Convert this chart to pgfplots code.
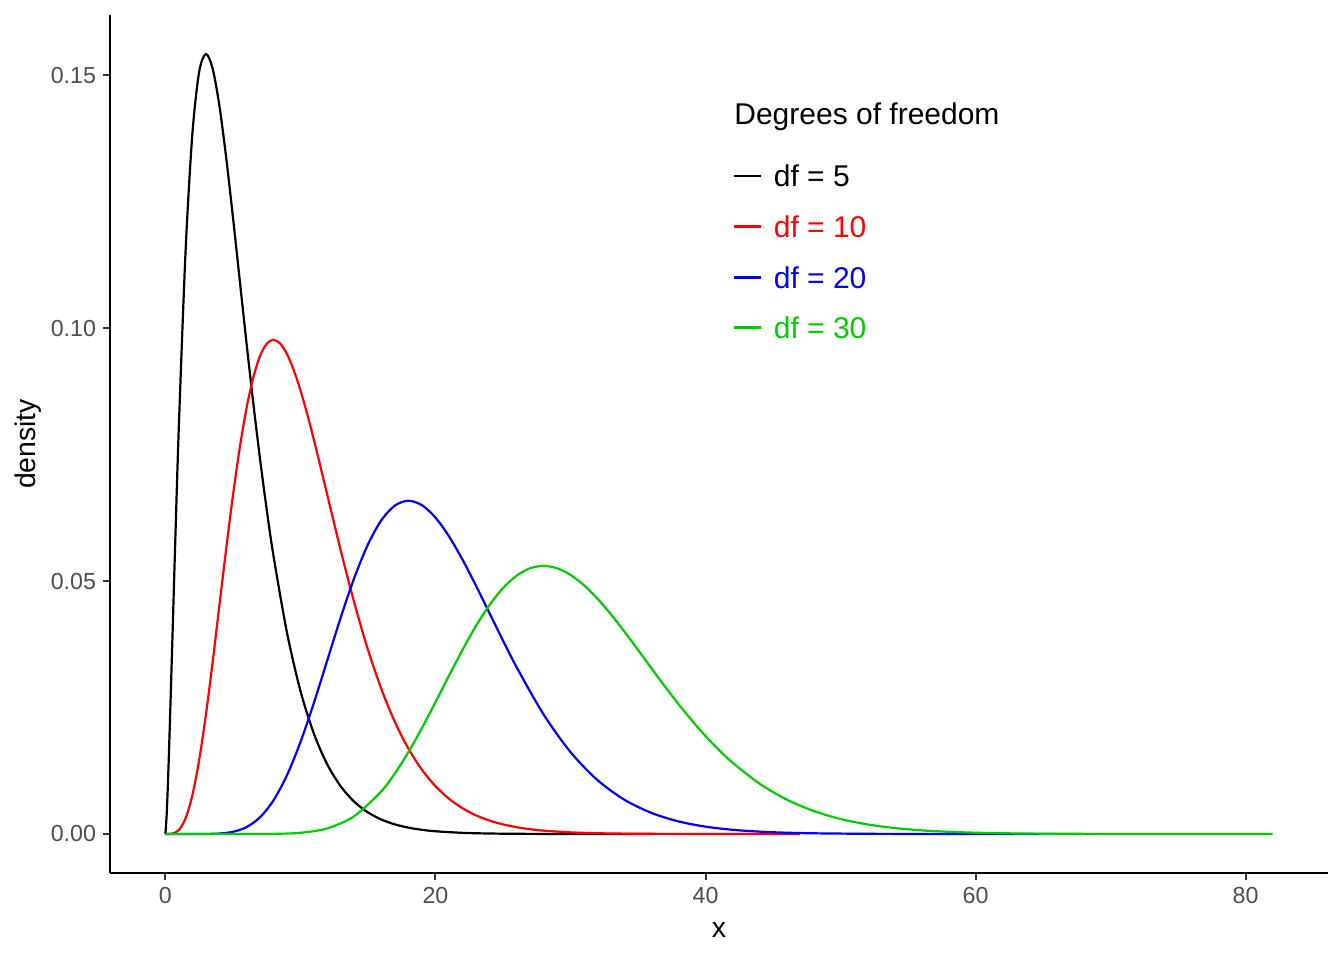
\documentclass[border=0pt]{standalone}
\usepackage{pgfplots}
\pgfplotsset{compat=1.18}
\usepackage{fontspec}
\setmainfont{Liberation Sans}
\definecolor{ggreen}{HTML}{00CD00}
\definecolor{tickgray}{HTML}{4D4D4D}
\definecolor{tickmark}{HTML}{333333}
\begin{document}
\begin{tikzpicture}
\begin{axis}[
  name=ax,
  scale only axis, width=609pt, height=429pt,
  xmin=-4.1, xmax=86.1, ymin=-0.00771, ymax=0.16189,
  axis lines=left, axis line style={-, line width=1pt, black},
  tick align=outside, major tick length=3.5pt,
  tick style={tickmark, line width=1pt},
  xtick={0,20,40,60,80}, ytick={0,0.05,0.10,0.15},
  scaled y ticks=false,
  y tick label style={/pgf/number format/.cd, fixed, fixed zerofill, precision=2, /tikz/.cd},
  tick label style={font=\fontsize{11.6}{14}\selectfont, text=tickgray},
  /pgf/number format/assume math mode=true,
  xlabel={x}, ylabel={density},
  every axis x label/.style={at={(axis description cs:0.5,-0.0664)}, anchor=center, font=\fontsize{14.2}{17}\selectfont},
  every axis y label/.style={at={(axis description cs:-0.0673,0.5)}, anchor=center, rotate=90, font=\fontsize{14.2}{17}\selectfont},
  legend style={at={(axis description cs:0.5115,0.8252)}, anchor=north west,
    draw=none, fill=none, inner sep=0pt, outer sep=0pt,
    font=\fontsize{15}{18}\selectfont, row sep=14.3pt,
    nodes={inner sep=0pt, text height=11pt, text depth=0pt},
    /tikz/every odd column/.append style={column sep=5.5pt}},
  legend cell align=left,
  legend image code/.code={\draw[#1, line width=1.4pt] (0pt,0pt) -- (13.5pt,0pt);},
]
\addplot[black, line width=1.1pt, smooth] coordinates {
(0,0) (0.1,0.004000) (0.25,0.014669) (0.5,0.036616) (0.75,0.059364) (1,0.080657)
(1.5,0.115400) (2,0.138370) (2.5,0.150602) (3,0.154181) (3.5,0.151313) (4,0.143976)
(4.5,0.133797) (5,0.122042) (5.5,0.109654) (6,0.097304) (6.5,0.085448) (7,0.074370)
(7.5,0.064237) (8,0.055113) (9,0.039887) (10,0.028335) (11,0.019827) (12,0.013703)
(13,0.009371) (14,0.006352) (15,0.004273) (16,0.002855) (17,0.001897) (18,0.001253)
(19,0.000824) (20,0.000540) (22,0.000229) (24,0.0000961) (26,0.0000399) (28,0.0000164)
(30,0.0000067) (33,0.0000017) (36,0.0000004)
};
\addlegendentry{df = 5}
\addplot[red, line width=1.1pt, smooth] coordinates {
(0,0) (0.5,0.0000634) (1,0.000790) (1.5,0.003114) (2,0.007664) (2.5,0.014572) (3,0.023533)
(3.5,0.033955) (4,0.045112) (4.5,0.056277) (5,0.066801) (5.5,0.076169) (6,0.084016)
(6.5,0.090122) (7,0.094405) (7.5,0.096891) (8,0.097684) (8.5,0.096952) (9,0.094904)
(9.5,0.091756) (10,0.087733) (10.5,0.083052)
(11,0.077910) (12,0.066927) (13,0.055910) (14,0.045613) (15,0.036457) (16,0.028626)
(17,0.022128) (18,0.016869) (19,0.012702) (20,0.009458) (21,0.006973) (22,0.005094)
(23,0.003691) (24,0.002654) (25,0.001896) (26,0.001345) (27,0.000949) (28,0.000666)
(30,0.000323) (32,0.000154) (34,0.0000720) (36,0.0000333) (40,0.0000069) (44,0.0000013)
(47,0.0000004)
};
\addlegendentry[text=red]{df = 10}
\addplot[blue, line width=1.1pt, smooth] coordinates {
(0,0) (2,0.0000005) (3,0.0000118) (4,0.0000955) (5,0.0004314) (6,0.0013502) (7,0.0032792)
(8,0.0066152) (9,0.011582) (10,0.018132) (11,0.025931) (12,0.034417) (13,0.042903)
(14,0.050699) (15,0.057217) (16,0.062034) (17,0.064930) (18,0.065874) (19,0.064997)
(20,0.062550) (21,0.058857) (22,0.054259) (23,0.049099) (24,0.043680) (25,0.038255)
(26,0.033025) (28,0.023671) (30,0.016203) (32,0.010655) (34,0.006764) (36,0.004162)
(38,0.002491) (40,0.001454) (42,0.000830) (44,0.000464) (46,0.000255) (48,0.000137)
(52,0.0000382) (56,0.0000101) (60,0.0000025) (66,0.0000003)
};
\addlegendentry[text=blue]{df = 20}
\addplot[ggreen, line width=1.1pt, smooth] coordinates {
(0,0) (4,0.0000000) (6,0.0000014) (8,0.0000282) (10,0.0002359) (12,0.001114) (14,0.003547)
(16,0.008462) (17,0.011993) (18,0.016193) (19,0.020936) (20,0.026038) (21,0.031269)
(22,0.036375) (23,0.041110) (24,0.045244) (25,0.048598) (26,0.051044) (27,0.052512)
(28,0.052995) (29,0.052534) (30,0.051218) (31,0.049163) (32,0.046508) (33,0.043399)
(34,0.039980) (35,0.036386) (36,0.032739) (37,0.029142) (38,0.025675) (39,0.022402)
(40,0.019369) (41,0.016599) (42,0.014107) (44,0.009954) (46,0.006823) (48,0.004555) (50,0.002967)
(52,0.001890) (54,0.001179) (56,0.000722) (58,0.000434) (60,0.000257) (62,0.000149)
(64,0.0000858) (66,0.0000485) (70,0.0000150) (74,0.0000044) (78,0.0000013) (82,0.0000004)
};
\addlegendentry[text=ggreen]{df = 30}
\node[anchor=base west, inner sep=0pt, font=\fontsize{15}{18}\selectfont]
  at (axis description cs:0.5123,0.8718) {Degrees of freedom};
\end{axis}
\path ([shift={(-55pt,-43.5pt)}]ax.south west) rectangle ([shift={(8pt,7.5pt)}]ax.north east);
\end{tikzpicture}
\end{document}
